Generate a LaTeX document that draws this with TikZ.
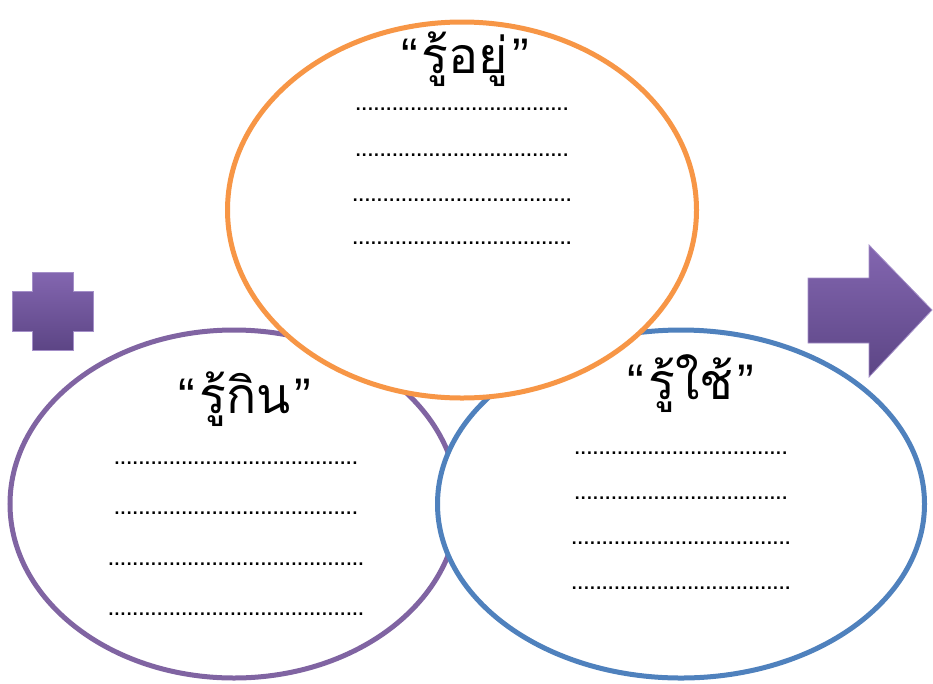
\documentclass[tikz,border=0pt]{standalone}
\usepackage{fontspec}
\usetikzlibrary{shapes.geometric}
\newfontfamily\thaifont[Script=Thai]{Loma}
\newfontfamily\quotefont{Liberation Sans}
\newfontfamily\dotfont{DejaVu Sans Bold}
\definecolor{corange}{HTML}{F79646}
\definecolor{cblue}{HTML}{4F81BD}
\definecolor{cpurple}{HTML}{8064A2}
\definecolor{gtop}{HTML}{8366B0}
\definecolor{gbot}{HTML}{5C4585}
\definecolor{gedge}{HTML}{A48FC8}
\newcommand\dotrow[1]{\foreach \i in {1,...,#1}{\makebox[6.1pt][c]{.}}}
\newcommand\ttl[1]{{\quotefont “}\kern4pt{\thaifont #1}\kern4pt{\quotefont ”}}
\tikzset{
  ring/.style={ellipse, draw, line width=5pt, fill=white, inner sep=0pt},
  titletext/.style={anchor=base, font=\fontsize{50}{56}\selectfont, inner sep=0pt},
  dotline/.style={anchor=base, font=\dotfont\fontsize{14}{18}\selectfont, inner sep=0pt},
  purpleshape/.style={top color=gtop, bottom color=gbot, draw=gedge, line width=0.8pt}
}
\begin{document}
\begin{tikzpicture}[x=1pt,y=-1pt]
\useasboundingbox (0,0) rectangle (933,683);
% ellipses
\node[ring, draw=cpurple, minimum width=448pt, minimum height=348pt] (eat) at (234,504) {};
\node[ring, draw=cblue, minimum width=487pt, minimum height=348pt] (use) at (681,504) {};
\node[ring, draw=corange, minimum width=469pt, minimum height=376pt] (live) at (462,210) {};
% titles
\node[titletext] (tlive) at (465,73) {\ttl{รู้อยู่}};
\node[titletext] (teat) at (245,413) {\ttl{รู้กิน}};
\node[titletext] (tuse) at (691,399) {\ttl{รู้ใช้}};
% dotted rows
\node[dotline] (l1) at (462,110) {\dotrow{35}};
\node[dotline] (l2) at (462,156) {\dotrow{35}};
\node[dotline] (l3) at (462,201) {\dotrow{36}};
\node[dotline] (l4) at (462,244) {\dotrow{36}};
\node[dotline] (e1) at (236,464) {\dotrow{40}};
\node[dotline] (e2) at (236,514) {\dotrow{40}};
\node[dotline] (e3) at (236,565) {\dotrow{42}};
\node[dotline] (e4) at (236,615) {\dotrow{42}};
\node[dotline] (u1) at (681,454) {\dotrow{35}};
\node[dotline] (u2) at (681,499) {\dotrow{35}};
\node[dotline] (u3) at (681,544) {\dotrow{36}};
\node[dotline] (u4) at (681,589) {\dotrow{36}};
% plus
\path[purpleshape] (32,272) -- (73,272) -- (73,291) -- (93,291) -- (93,331) -- (73,331) -- (73,350) -- (32,350) -- (32,331) -- (12,331) -- (12,291) -- (32,291) -- cycle;
% arrow
\path[purpleshape] (808,278) -- (869,278) -- (869,245) -- (932,310) -- (869,377) -- (869,343) -- (808,343) -- cycle;
\end{tikzpicture}
\end{document}
